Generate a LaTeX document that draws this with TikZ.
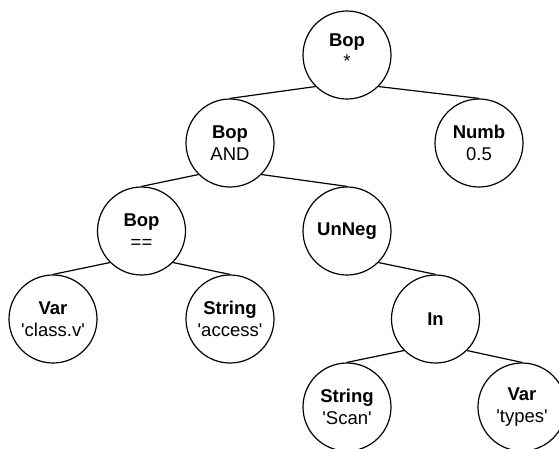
\documentclass[tikz,border=0pt]{standalone}
\usepackage{fontspec}
\setmainfont{Liberation Sans}
\newcommand{\sq}{\textquotesingle}
\begin{document}
\begin{tikzpicture}[x=1pt,y=-1pt,
  tnode/.style={circle,draw,line width=1.2pt,minimum size=88pt,inner sep=0pt,
    align=center,font=\fontsize{18.5}{21.7}\selectfont},
  tedge/.style={line width=1.2pt}]
  \useasboundingbox (0,0) rectangle (559,448);
  \clip (0,0) rectangle (559,448);
  % tree nodes
  \node[tnode] (top)    at (347,55)    {\textbf{Bop}\\*\rule[-9pt]{0pt}{9pt}};
  \node[tnode] (and)    at (230,143)   {\textbf{Bop}\\AND};
  \node[tnode] (numb)   at (479,143)   {\textbf{Numb}\\0.5};
  \node[tnode] (eq)     at (141.5,231) {\textbf{Bop}\\==};
  \node[tnode] (unneg)  at (347,231)   {\textbf{UnNeg}};
  \node[tnode] (classv) at (53,319)    {\textbf{Var}\\\sq class.v\sq};
  \node[tnode] (access) at (230,319)   {\textbf{String}\\\sq access\sq};
  \node[tnode] (in)     at (435.5,319) {\textbf{In}};
  \node[tnode] (scan)   at (347,407)   {\textbf{String}\\\sq Scan\sq};
  \node[tnode] (types)  at (522,407)   {\textbf{Var}\\\sq types\sq};
  % parent-child edges
  \draw[tedge] (top.south west) -- (and.north);
  \draw[tedge] (top.south east) -- (numb.north);
  \draw[tedge] (and.south west) -- (eq.north);
  \draw[tedge] (and.south east) -- (unneg.north);
  \draw[tedge] (eq.south west) -- (classv.north);
  \draw[tedge] (eq.south east) -- (access.north);
  \draw[tedge] (unneg.south east) -- (in.north);
  \draw[tedge] (in.south west) -- (scan.north);
  \draw[tedge] (in.south east) -- (types.north);
\end{tikzpicture}
\end{document}
